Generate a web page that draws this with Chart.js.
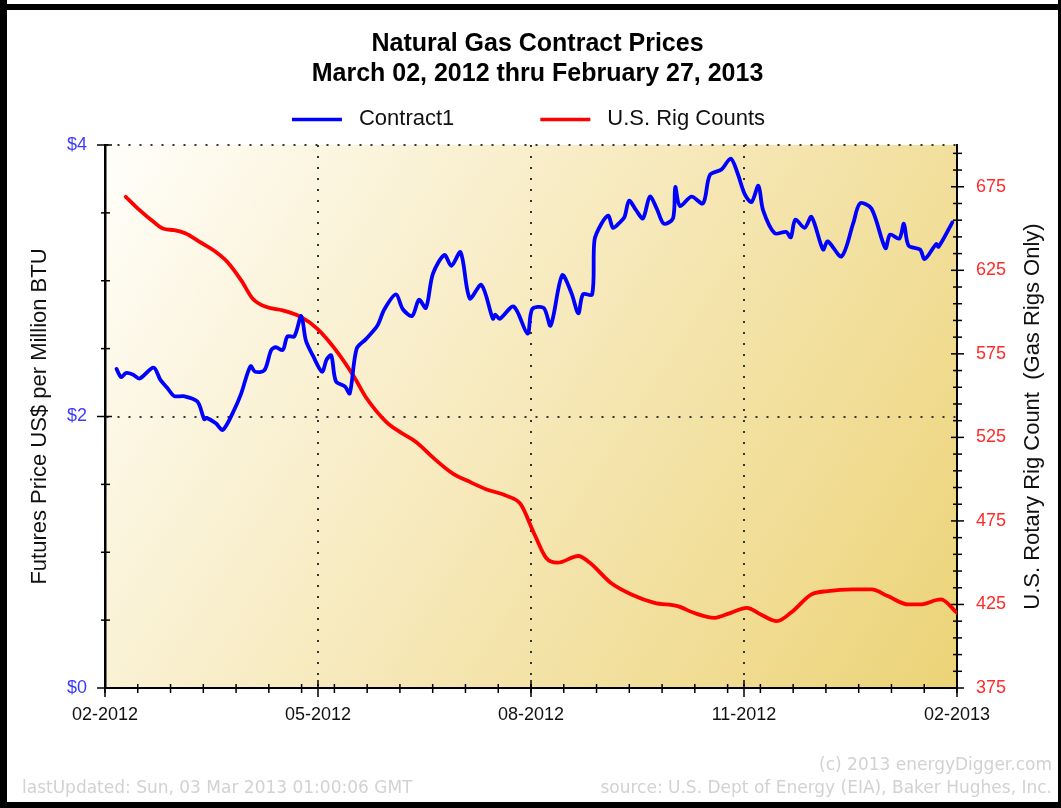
<!DOCTYPE html>
<html>
<head>
<meta charset="utf-8">
<title>Natural Gas Contract Prices</title>
<script src="https://cdn.jsdelivr.net/npm/chart.js@4.4.1/dist/chart.umd.min.js"></script>
<style>
  html, body { margin: 0; padding: 0; background: #fff; }
</style>
</head>
<body>
<canvas id="myChart" width="1061" height="808"></canvas>
<script>
// axis range and labels
const xStart = "2012-02-26";
const xEnd = "2013-03-01";
const xTickLabels = ["02-2012", "05-2012", "08-2012", "11-2012", "02-2013"];
const priceTicks = [0, 2, 4];
const rigTicks = [375, 425, 475, 525, 575, 625, 675];

// Contract1 (US$ per million BTU)
const priceDates = [
  "2012-03-02", "2012-03-04", "2012-03-06", "2012-03-09", "2012-03-12", "2012-03-18", "2012-03-21", "2012-03-24", "2012-03-27", "2012-03-31",
  "2012-04-06", "2012-04-09", "2012-04-10", "2012-04-14", "2012-04-17", "2012-04-22", "2012-04-25", "2012-04-29", "2012-05-01", "2012-05-05",
  "2012-05-08", "2012-05-10", "2012-05-13", "2012-05-15", "2012-05-18", "2012-05-21", "2012-05-23", "2012-05-26", "2012-05-30", "2012-06-01",
  "2012-06-03", "2012-06-05", "2012-06-09", "2012-06-11", "2012-06-14", "2012-06-18", "2012-06-23", "2012-06-26", "2012-07-01", "2012-07-04",
  "2012-07-08", "2012-07-11", "2012-07-14", "2012-07-17", "2012-07-22", "2012-07-25", "2012-07-29", "2012-08-02", "2012-08-07", "2012-08-12",
  "2012-08-13", "2012-08-15", "2012-08-21", "2012-08-27", "2012-08-29", "2012-09-03", "2012-09-06", "2012-09-11", "2012-09-15", "2012-09-18",
  "2012-09-20", "2012-09-24", "2012-09-25", "2012-09-28", "2012-10-01", "2012-10-03", "2012-10-06", "2012-10-08", "2012-10-10", "2012-10-13",
  "2012-10-16", "2012-10-19", "2012-10-22", "2012-10-25", "2012-10-29", "2012-10-30", "2012-11-01", "2012-11-06", "2012-11-11", "2012-11-14",
  "2012-11-19", "2012-11-23", "2012-11-26", "2012-11-29", "2012-12-02", "2012-12-05", "2012-12-07", "2012-12-12", "2012-12-17", "2012-12-19",
  "2012-12-21", "2012-12-25", "2012-12-28", "2013-01-02", "2013-01-04", "2013-01-10", "2013-01-15", "2013-01-18", "2013-01-23", "2013-01-29",
  "2013-01-31", "2013-02-04", "2013-02-06", "2013-02-08", "2013-02-13", "2013-02-15", "2013-02-20", "2013-02-21", "2013-02-27"
];
const priceValues = [
  2.35, 2.29, 2.32, 2.31, 2.28, 2.36, 2.27, 2.21, 2.15, 2.15,
  2.11, 1.98, 1.99, 1.95, 1.90, 2.05, 2.17, 2.37, 2.33, 2.34,
  2.49, 2.51, 2.49, 2.59, 2.59, 2.74, 2.56, 2.45, 2.33, 2.42,
  2.45, 2.26, 2.22, 2.17, 2.50, 2.57, 2.67, 2.79, 2.90, 2.79,
  2.74, 2.86, 2.80, 3.05, 3.19, 3.11, 3.21, 2.87, 2.97, 2.72,
  2.75, 2.72, 2.81, 2.61, 2.79, 2.80, 2.67, 3.04, 2.91, 2.76,
  2.90, 2.90, 3.30, 3.42, 3.48, 3.39, 3.43, 3.47, 3.59, 3.52,
  3.46, 3.62, 3.53, 3.42, 3.46, 3.69, 3.55, 3.62, 3.57, 3.78,
  3.82, 3.90, 3.79, 3.64, 3.58, 3.70, 3.52, 3.35, 3.36, 3.32,
  3.45, 3.39, 3.47, 3.23, 3.29, 3.18, 3.42, 3.57, 3.53, 3.24,
  3.34, 3.31, 3.42, 3.26, 3.23, 3.16, 3.27, 3.25, 3.43
];

// U.S. rig counts (gas rigs only)
const rigDates = [
  "2012-03-06", "2012-03-12", "2012-03-18", "2012-03-22", "2012-03-27", "2012-04-01", "2012-04-07", "2012-04-13", "2012-04-19", "2012-04-25",
  "2012-04-30", "2012-05-06", "2012-05-13", "2012-05-21", "2012-05-28", "2012-06-04", "2012-06-13", "2012-06-18", "2012-06-27", "2012-07-03",
  "2012-07-10", "2012-07-17", "2012-07-26", "2012-08-01", "2012-08-09", "2012-08-18", "2012-08-24", "2012-08-30", "2012-09-04", "2012-09-09",
  "2012-09-18", "2012-09-23", "2012-10-02", "2012-10-11", "2012-10-21", "2012-10-31", "2012-11-07", "2012-11-16", "2012-11-23", "2012-11-30",
  "2012-12-06", "2012-12-13", "2012-12-19", "2012-12-28", "2013-01-04", "2013-01-15", "2013-01-23", "2013-01-30", "2013-02-08", "2013-02-13",
  "2013-02-22", "2013-03-01"
];
const rigValues = [
  669, 661, 654, 650, 649, 647, 642, 637, 630, 619,
  608, 603, 601, 597, 590, 579, 561, 549, 534, 528,
  522, 513, 503, 499, 494, 490, 485, 467, 453, 450,
  454, 450, 438, 431, 426, 424, 420, 417, 420, 423,
  419, 415, 420, 431, 433, 434, 434, 430, 425, 425,
  428, 420
];

const day = s => (Date.parse(s) - Date.parse(xStart)) / 864e5;
const xMin = 0, xMax = day(xEnd);

const fontFamily = "'Liberation Sans', Arial, sans-serif";

const decorations = {
  id: "decorations",
  beforeDraw(chart) {
    const { ctx, chartArea: a } = chart;
    ctx.save();
    ctx.fillStyle = "#fff";
    ctx.fillRect(0, 0, chart.width, chart.height);
    const g = ctx.createLinearGradient(a.left, a.top, a.right, a.bottom);
    g.addColorStop(0, "#fffefa");
    g.addColorStop(0.5, "#f6e8b8");
    g.addColorStop(1, "#ecd377");
    ctx.fillStyle = g;
    ctx.fillRect(a.left, a.top, a.right - a.left, a.bottom - a.top);
    ctx.restore();
  },
  afterDraw(chart) {
    const { ctx, chartArea: a, scales } = chart;
    ctx.save();

    // tick marks, major and minor
    ctx.strokeStyle = "#000";
    ctx.lineWidth = 1.5;
    const seg = (x1, y1, x2, y2) => { ctx.beginPath(); ctx.moveTo(x1, y1); ctx.lineTo(x2, y2); ctx.stroke(); };
    for (let v = 0; v <= 4.001; v += 0.5) {
      const y = scales.y.getPixelForValue(v);
      if (priceTicks.includes(v)) seg(a.left - 8, y, a.left + 7, y);
      else seg(a.left - 4, y, a.left + 5, y);
    }
    for (let v = 375; v <= 700; v += 10) {
      const y = scales.y1.getPixelForValue(v);
      if (rigTicks.includes(v)) seg(a.right - 6, y, a.right + 7, y);
      else seg(a.right - 4, y, a.right + 5, y);
    }
    for (let i = 0; i <= 26; i++) {
      const x = scales.x.getPixelForValue(xMin + i * (xMax - xMin) / 26);
      seg(x, a.bottom - 4, x, a.bottom + 5);
    }
    scales.x.ticks.forEach(t => {
      const x = scales.x.getPixelForValue(t.value);
      seg(x, a.bottom - 8, x, a.bottom + 9);
    });

    // legend
    ctx.font = "22px " + fontFamily;
    ctx.textBaseline = "middle";
    ctx.textAlign = "left";
    const items = chart.data.datasets.map(ds => ({ label: ds.label, color: ds.borderColor }));
    const lineLen = 50, textGap = 17, itemGap = 86;
    const widths = items.map(it => lineLen + textGap + ctx.measureText(it.label).width);
    let lx = 528.5 - (widths.reduce((s, w) => s + w, 0) + itemGap * (items.length - 1)) / 2;
    items.forEach((it, i) => {
      ctx.strokeStyle = it.color;
      ctx.lineWidth = 3.5;
      seg(lx, 119.5, lx + lineLen, 119.5);
      ctx.fillStyle = "#111";
      ctx.fillText(it.label, lx + lineLen + textGap, 118.5);
      lx += widths[i] + itemGap;
    });

    // right axis title, reading upward
    ctx.save();
    ctx.translate(1033, (a.top + a.bottom) / 2);
    ctx.rotate(-Math.PI / 2);
    ctx.textAlign = "center";
    ctx.fillStyle = "#111";
    ctx.fillText("U.S. Rotary Rig Count  (Gas Rigs Only)", 0, 0);
    ctx.restore();

    // footer
    ctx.font = "17px 'DejaVu Sans', Verdana, sans-serif";
    ctx.fillStyle = "#d2d2d2";
    ctx.textAlign = "right";
    ctx.fillText("(c) 2013 energyDigger.com", 1052, 766);
    ctx.fillText("source: U.S. Dept of Energy (EIA), Baker Hughes, Inc.", 1052, 789);
    ctx.textAlign = "left";
    ctx.fillText("lastUpdated: Sun, 03 Mar 2013 01:00:06 GMT", 22, 789);

    // frame
    ctx.fillStyle = "#000";
    ctx.fillRect(0, 0, 7, chart.height);
    ctx.fillRect(0, 4, chart.width, 6);
    ctx.fillRect(0, chart.height - 6, chart.width, 6);
    ctx.fillRect(chart.width - 3, 0, 3, chart.height);
    ctx.restore();
  }
};

const ctx = document.getElementById("myChart").getContext("2d");
const gasChart = new Chart(ctx, {
  type: "line",
  data: {
    datasets: [
      {
        label: "Contract1",
        data: priceDates.map((d, i) => ({ x: day(d), y: priceValues[i] })),
        yAxisID: "y",
        borderColor: "#0000ff",
        borderWidth: 3.8,
        pointRadius: 0,
        tension: 0.3,
        borderJoinStyle: "round",
        borderCapStyle: "round",
      },
      {
        label: "U.S. Rig Counts",
        data: rigDates.map((d, i) => ({ x: day(d), y: rigValues[i] })),
        yAxisID: "y1",
        borderColor: "#ff0000",
        borderWidth: 3.8,
        pointRadius: 0,
        cubicInterpolationMode: "monotone",
        borderJoinStyle: "round",
        borderCapStyle: "round",
      },
    ],
  },
  options: {
    responsive: false,
    animation: false,
    devicePixelRatio: 1,
    layout: { padding: { left: 14, right: 0, top: 0, bottom: 0 } },
    plugins: {
      legend: { display: false },
      tooltip: { enabled: false },
      title: {
        display: true,
        text: ["Natural Gas Contract Prices", "March 02, 2012 thru February 27, 2013"],
        color: "#000",
        font: { family: fontFamily, size: 25, weight: "bold", lineHeight: 1.2 },
        padding: { top: 29, bottom: 56 },
      },
    },
    scales: {
      x: {
        type: "linear",
        min: xMin,
        max: xMax,
        afterBuildTicks: s => { s.ticks = xTickLabels.map((_, i) => ({ value: xMin + i * (xMax - xMin) / 4 })); },
        afterFit: s => { s.height = 120; },
        ticks: {
          callback: (v, i) => xTickLabels[i],
          color: "#111",
          font: { family: fontFamily, size: 18 },
          padding: 16,
          maxRotation: 0,
        },
        grid: { color: "#333", lineWidth: 2, drawTicks: false },
        border: { display: true, color: "#000", width: 2, dash: [2, 9] },
      },
      y: {
        position: "left",
        min: 0,
        max: 4,
        afterBuildTicks: s => { s.ticks = priceTicks.map(v => ({ value: v })); },
        afterFit: s => { s.width = 91; },
        ticks: {
          callback: v => "$" + v,
          color: "#3b3bff",
          font: { family: fontFamily, size: 18 },
          padding: 18,
        },
        grid: { color: "#333", lineWidth: 2, drawTicks: false },
        border: { display: true, color: "#000", width: 2.5, dash: [2, 9] },
        title: {
          display: true,
          text: "Futures Price US$ per Million BTU",
          color: "#111",
          font: { family: fontFamily, size: 22 },
          padding: { top: 13, bottom: 0 },
        },
      },
      y1: {
        position: "right",
        min: 375,
        max: 700,
        afterBuildTicks: s => { s.ticks = rigTicks.map(v => ({ value: v })); },
        afterFit: s => { s.width = 104; },
        ticks: {
          color: "#ff2b2b",
          font: { family: fontFamily, size: 18 },
          padding: 19,
        },
        grid: { drawOnChartArea: false, drawTicks: false },
        border: { display: true, color: "#000", width: 2 },
      },
    },
  },
  plugins: [decorations],
});
</script>
</body>
</html>
